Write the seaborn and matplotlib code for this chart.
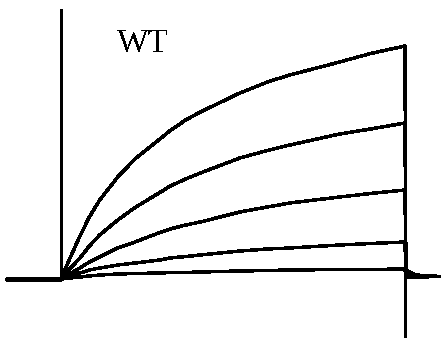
import numpy as np
import pandas as pd
import matplotlib
matplotlib.use("Agg")
import matplotlib.pyplot as plt
import seaborn as sns

sns.set_style("white")
plt.rcParams["lines.antialiased"] = False
plt.rcParams["text.antialiased"] = False

# Sampling times during the depolarising step (ms)
step_time = [0, 10, 22, 33, 45, 66, 86, 115, 127, 145, 162, 208, 240, 266,
             324, 360, 400]

# Outward currents (nA) for the five test potentials, largest first
sweep_1 = [0, 0.40, 0.86, 1.24, 1.58, 2.04, 2.40, 2.80, 2.97, 3.18, 3.34,
           3.72, 3.94, 4.08, 4.34, 4.51, 4.66]
sweep_2 = [0, 0.20, 0.42, 0.66, 0.88, 1.18, 1.43, 1.73, 1.86, 2.00, 2.12,
           2.42, 2.57, 2.68, 2.90, 3.00, 3.12]
sweep_3 = [0, 0.10, 0.22, 0.34, 0.44, 0.62, 0.74, 0.93, 1.00, 1.08, 1.14,
           1.34, 1.44, 1.52, 1.64, 1.71, 1.78]
sweep_4 = [0, 0.05, 0.12, 0.18, 0.22, 0.28, 0.32, 0.38, 0.42, 0.45, 0.48,
           0.56, 0.60, 0.62, 0.68, 0.71, 0.74]
sweep_5 = [0, 0.02, 0.04, 0.06, 0.08, 0.10, 0.11, 0.12, 0.13, 0.13, 0.14,
           0.16, 0.17, 0.18, 0.19, 0.19, 0.20]

# Holding period before the step and tail after repolarisation
hold_time = [-63, 0]
tail_time = [401, 412, 442]
tail_1 = [0.18, 0.08, 0.05]
tail_2 = [0.14, 0.07, 0.05]
tail_3 = [0.10, 0.06, 0.05]
tail_4 = [0.06, 0.05, 0.05]
tail_5 = [0.03, 0.04, 0.05]

# Clipped capacitive transients at step onset and offset (nA)
onset_peak = 5.40
offset_peak = -1.50

genotype = "WT"

sweeps = [sweep_1, sweep_2, sweep_3, sweep_4, sweep_5]
tails = [tail_1, tail_2, tail_3, tail_4, tail_5]

rows = []
for k, (trace, tail) in enumerate(zip(sweeps, tails)):
    times = hold_time + step_time[1:] + tail_time
    values = [0, 0] + trace[1:] + tail
    for t, v in zip(times, values):
        rows.append({"time": t, "current": v, "sweep": k})
df = pd.DataFrame(rows)

fig = plt.figure(figsize=(4.41, 3.38), dpi=100)
ax = fig.add_axes([0, 0, 1, 1])

sns.lineplot(data=df, x="time", y="current", hue="sweep",
             palette=["black"] * len(sweeps), estimator=None, sort=False,
             legend=False, linewidth=1.8, antialiased=False, ax=ax)

# Baseline before the step drawn a bit heavier
ax.plot(hold_time, [0, 0], color="black", lw=2.4, antialiased=False)

# Capacitive transients
ax.vlines(0, 0, onset_peak, color="black", lw=1.8, antialiased=False)
ax.vlines(step_time[-1], offset_peak, sweep_1[-1], color="black", lw=1.8,
          antialiased=False)

ax.text(65, 4.54, genotype, family="Liberation Serif", fontsize=24,
        ha="left", va="baseline", color="black")

px_per_ms = 0.86
ax.set_xlim(-61 / px_per_ms, (441 - 61) / px_per_ms)
ax.set_ylim(-59 / 50, 279 / 50)
ax.axis("off")

fig.savefig("out.png", dpi=100, facecolor="white")
